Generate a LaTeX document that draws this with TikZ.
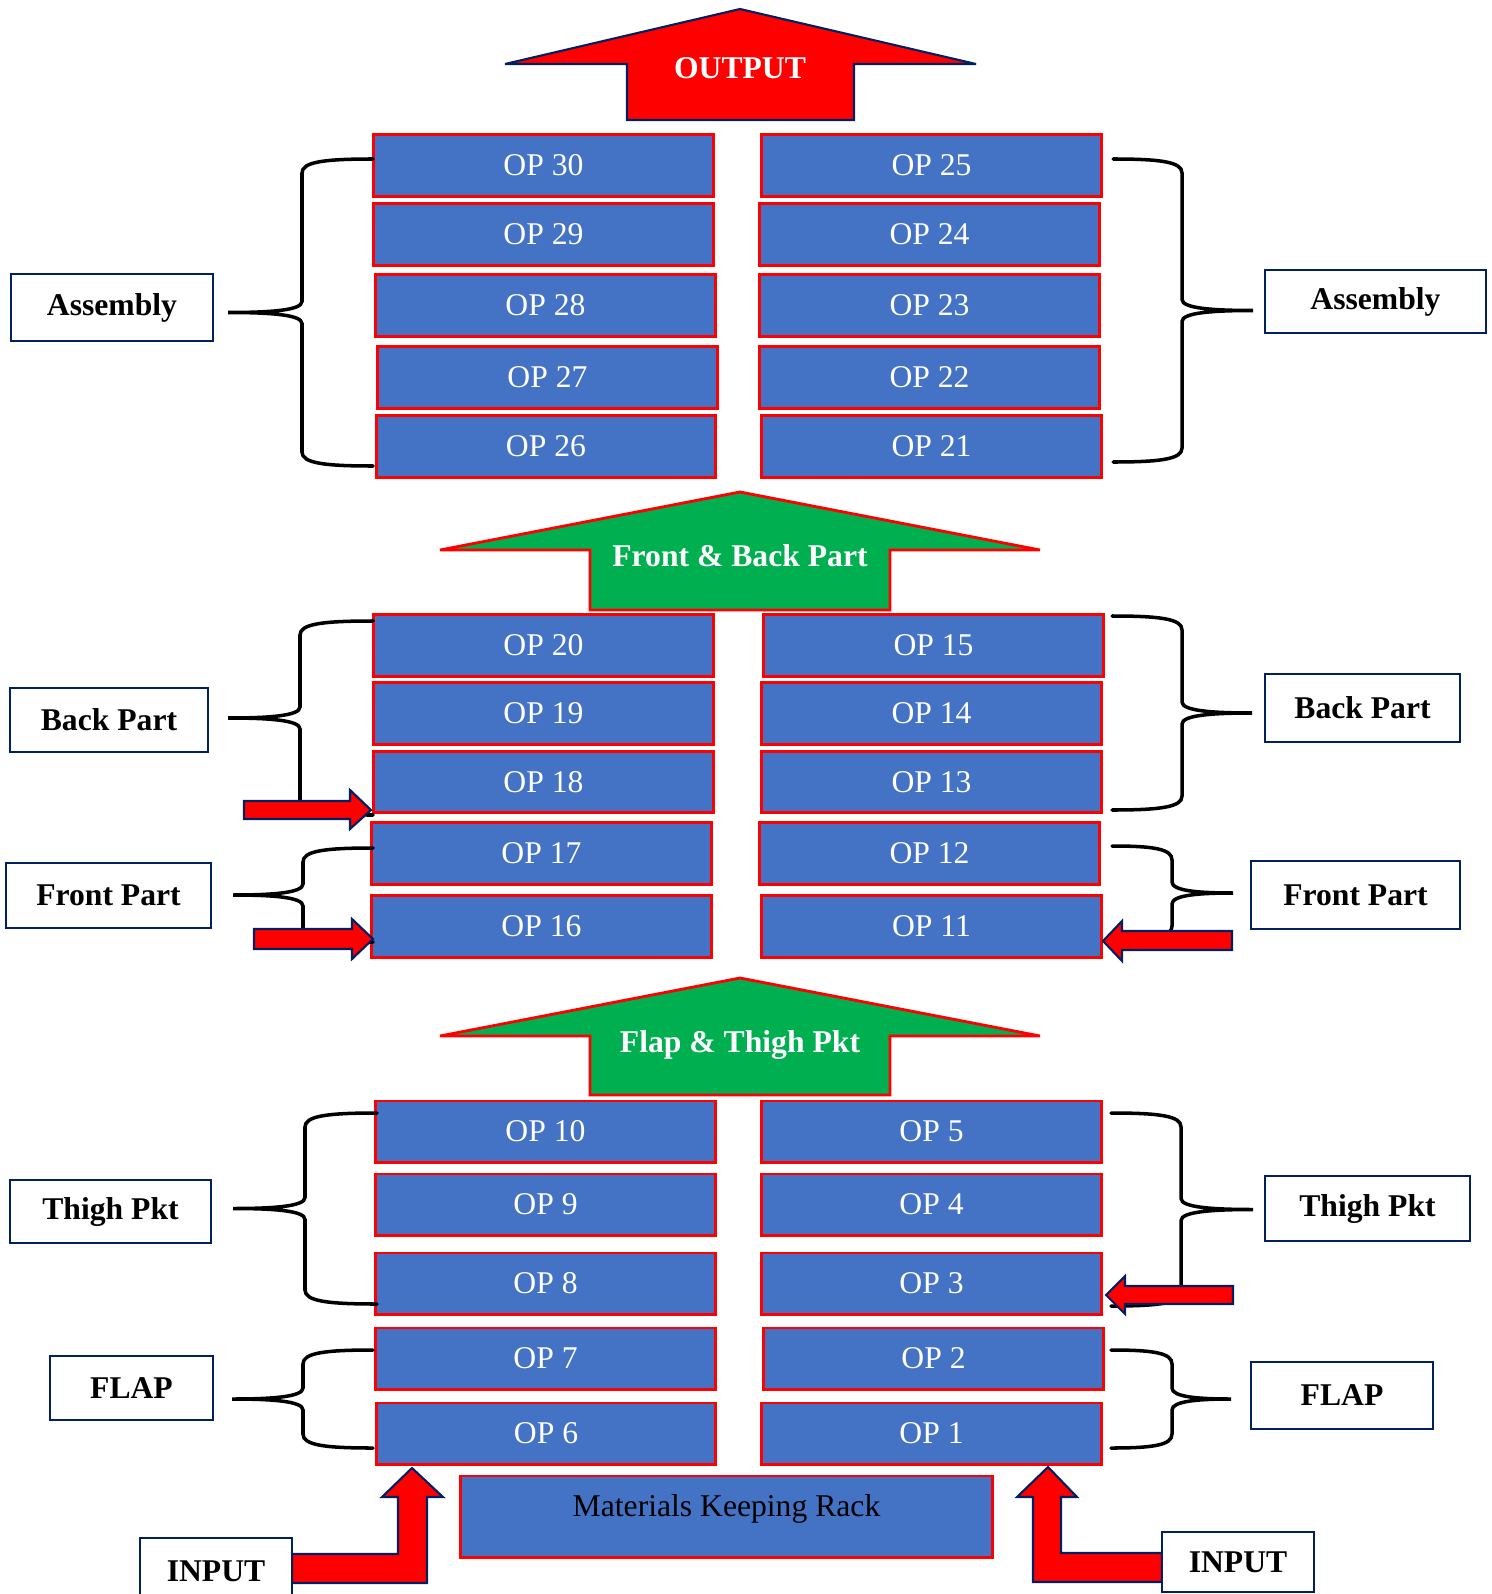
\documentclass[tikz,border=0pt]{standalone}
\usepackage{fontspec}
\setmainfont{Liberation Serif}

\definecolor{opblue}{HTML}{4472C4}
\definecolor{navyline}{HTML}{002060}
\definecolor{flowgreen}{HTML}{00B050}

\tikzset{
  opbox/.style={draw=red, line width=0.85pt, fill=opblue, text=white,
    minimum width=3.39cm, minimum height=0.61cm, inner sep=0pt},
  tagbox/.style={draw=navyline, line width=0.6pt, fill=white, inner sep=0pt,
    font=\fontsize{9}{11}\selectfont\bfseries},
  curl/.style={line width=1pt, line cap=round},
  feed/.style={fill=red, draw=navyline, line width=0.6pt},
  flowup/.style={fill=flowgreen, draw=red, line width=0.8pt, miter limit=3},
  flowtext/.style={text=white, font=\fontsize{9}{11}\selectfont\bfseries}
}

% #1 arm end x, #2 spine x, #3 tip x, #4 top y, #5 bottom y
\newcommand{\curlyfrom}[5]{%
  \draw[curl] (#1,#4) .. controls ({#2+0.3*(#1-#2)},#4) and (#2,#4+3) .. (#2,#4+14)
    -- (#2,{(#4+#5)/2-11})
    .. controls (#2,{(#4+#5)/2-2}) and ({#2+0.45*(#3-#2)},{(#4+#5)/2}) .. (#3,{(#4+#5)/2})
    .. controls ({#2+0.45*(#3-#2)},{(#4+#5)/2}) and (#2,{(#4+#5)/2+2}) .. (#2,{(#4+#5)/2+11})
    -- (#2,#5-14) .. controls (#2,#5-3) and ({#2+0.3*(#1-#2)},#5) .. (#1,#5);}

\begin{document}
\begin{tikzpicture}[x=0.01cm, y=-0.01cm, font=\fontsize{9}{11}\selectfont]
  \useasboundingbox (0,0) rectangle (1492,1594);

  % operations
  \foreach \l/\xl/\r/\xr/\y in {30/543.5/25/931.5/165.5, 29/543.5/24/929.5/234.5, 28/545.5/23/929.5/305.5,
                                27/547.5/22/929.5/377.5, 26/546/21/931.5/446.5,
                                20/543.5/15/933.5/645.5, 19/543.5/14/931.5/713.5, 18/543.5/13/931.5/782,
                                17/541.5/12/929.5/853.5, 16/541.5/11/931.5/926.5,
                                10/545.5/5/931.5/1131.5, 9/545.5/4/931.5/1204.5, 8/545.5/3/931.5/1283.5,
                                7/545.5/2/933.5/1358.5, 6/546/1/931.5/1433.5}
  {
    \node[opbox] (op\l) at (\xl,\y) {OP \l};
    \node[opbox] (op\r) at (\xr,\y) {OP \r};
  }
  \node[opbox, text=black, minimum width=5.31cm, minimum height=0.81cm,
        text height=0.22cm, text depth=0.23cm] (rack) at (726.5,1516.5) {Materials Keeping Rack};

  % stage arrows
  \draw[feed, miter limit=3] (740,9) -- (976,64) -- (854,64) -- (854,120) -- (627,120) -- (627,64) -- (505,64) -- cycle;
  \node[flowtext] (output) at (740,68) {OUTPUT};
  \draw[flowup] (740,492) -- (1040,550) -- (890,550) -- (890,610) -- (590,610) -- (590,550) -- (440,550) -- cycle;
  \node[flowtext] (frontback) at (740,556) {Front \& Back Part};
  \draw[flowup] (740,978) -- (1040,1036) -- (890,1036) -- (890,1095) -- (590,1095) -- (590,1036) -- (440,1036) -- cycle;
  \node[flowtext] (flapthigh) at (740,1045) {Flap \& Thigh Pkt};

  % groups
  \node[tagbox, minimum width=2.02cm, minimum height=0.67cm] (asmL) at (112,307.5) {Assembly};
  \node[tagbox, minimum width=1.98cm, minimum height=0.64cm] (backL) at (109,720) {Back Part};
  \node[tagbox, minimum width=2.05cm, minimum height=0.65cm] (frontL) at (108.5,895.5) {Front Part};
  \node[tagbox, minimum width=2.01cm, minimum height=0.63cm] (thighL) at (110.5,1211.5) {Thigh Pkt};
  \node[tagbox, minimum width=1.63cm, minimum height=0.64cm] (flapL) at (131.5,1388) {FLAP};
  \node[tagbox, minimum width=2.21cm, minimum height=0.63cm] (asmR) at (1375.5,301.5) {Assembly};
  \node[tagbox, minimum width=1.95cm, minimum height=0.68cm] (backR) at (1362.5,708) {Back Part};
  \node[tagbox, minimum width=2.09cm, minimum height=0.68cm] (frontR) at (1355.5,895) {Front Part};
  \node[tagbox, minimum width=2.05cm, minimum height=0.65cm] (thighR) at (1367.5,1208.5) {Thigh Pkt};
  \node[tagbox, minimum width=1.82cm, minimum height=0.67cm] (flapR) at (1342,1395.5) {FLAP};

  \curlyfrom{373}{302}{228}{159}{466}
  \curlyfrom{373}{300}{228}{621}{815}
  \curlyfrom{373}{303}{233}{848}{942}
  \curlyfrom{377}{305}{233}{1113}{1304}
  \curlyfrom{373}{303}{232}{1350}{1448}
  \curlyfrom{1113}{1182}{1253}{159}{462}
  \curlyfrom{1112}{1182}{1252}{616}{810}
  \curlyfrom{1112}{1172}{1233}{846}{940}
  \curlyfrom{1111}{1181}{1253}{1113}{1306}
  \curlyfrom{1111}{1172}{1231}{1350}{1448}

  % feeds
  \draw[feed] (244,801) -- (350,801) -- (350,790) -- (371,810) -- (350,829) -- (350,819) -- (244,819) -- cycle;
  \draw[feed] (254,929) -- (352,929) -- (352,919) -- (373,939) -- (352,959) -- (352,949) -- (254,949) -- cycle;
  \draw[feed] (1232,931) -- (1122,931) -- (1122,921) -- (1103,941) -- (1122,961) -- (1122,950) -- (1232,950) -- cycle;
  \draw[feed] (1233,1286) -- (1125,1286) -- (1125,1276) -- (1106,1295) -- (1125,1314) -- (1125,1304) -- (1233,1304) -- cycle;
  \draw[feed] (292,1554) -- (398,1554) -- (398,1497) -- (382,1497) -- (412,1468) -- (443,1497) -- (427,1497) -- (427,1583) -- (292,1583) -- cycle;
  \draw[feed] (1162,1553) -- (1061,1553) -- (1061,1497) -- (1077,1497) -- (1048,1467) -- (1017,1497) -- (1033,1497) -- (1033,1582) -- (1162,1582) -- cycle;

  \node[tagbox, minimum width=1.52cm, minimum height=0.66cm] (inL) at (216,1571) {INPUT};
  \node[tagbox, minimum width=1.52cm, minimum height=0.60cm] (inR) at (1238,1562) {INPUT};
\end{tikzpicture}
\end{document}
